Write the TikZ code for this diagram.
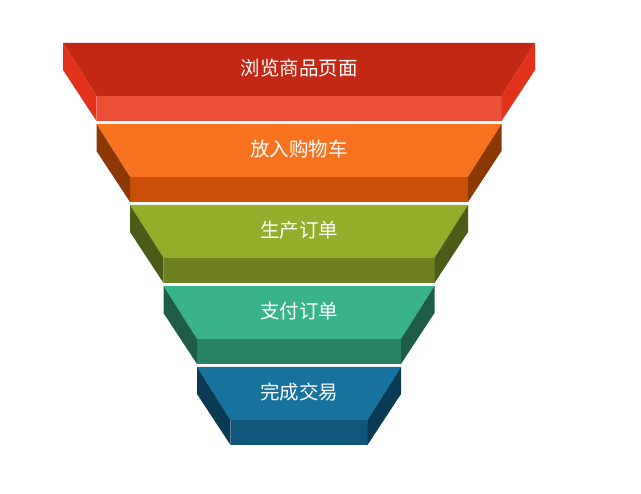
\documentclass[tikz,border=0pt]{standalone}
\usepackage{fontspec}
\newfontfamily\cjk{Noto Sans CJK SC}
\usepackage{tikz}

\definecolor{redtop}{HTML}{C32815}
\definecolor{redfront}{HTML}{EB4F38}
\definecolor{redside}{HTML}{E2321B}
\definecolor{orangetop}{HTML}{F8731F}
\definecolor{orangefront}{HTML}{C84F05}
\definecolor{orangeside}{HTML}{8B3805}
\definecolor{greentop}{HTML}{93AE2A}
\definecolor{greenfront}{HTML}{6E801F}
\definecolor{greenside}{HTML}{4B5C18}
\definecolor{tealtop}{HTML}{38B38A}
\definecolor{tealfront}{HTML}{2A8265}
\definecolor{tealside}{HTML}{1E5C47}
\definecolor{bluetop}{HTML}{17729E}
\definecolor{bluefront}{HTML}{10567A}
\definecolor{blueside}{HTML}{0B3A55}

\tikzset{
	label/.style={text=white, font=\cjk\fontsize{19.5}{21}\selectfont, inner sep=0pt}
}

\begin{document}
\begin{tikzpicture}[x=1pt,y=-1pt]
			\useasboundingbox (0,0) rectangle (641,494);
			
			% one funnel level per step
			\foreach \i/\c/\txt in {0/red/浏览商品页面, 1/orange/放入购物车, 2/green/生产订单, 3/teal/支付订单, 4/blue/完成交易}
			{
				\pgfmathsetmacro\L{63+33.5*\i}
				\pgfmathsetmacro\R{535-33.5*\i}
				\pgfmathsetmacro\T{43+81*\i}
				
				\fill[\c top] (\L,\T) -- (\R,\T) -- ({\R-33.5},{\T+53}) -- ({\L+33.5},{\T+53}) -- cycle;
				\fill[\c front] ({\L+33.5},{\T+53}) rectangle ({\R-33.5},{\T+78});
				\fill[\c side] (\L,\T) -- (\L,{\T+27}) -- ({\L+33.5},{\T+78}) -- ({\L+33.5},{\T+53}) -- cycle;
				\fill[\c side] (\R,\T) -- (\R,{\T+27}) -- ({\R-33.5},{\T+78}) -- ({\R-33.5},{\T+53}) -- cycle;
				
				\node (step\i) at ({(\L+\R)/2},{\T+25.5}) [label] {\txt};
			}
		\end{tikzpicture}
\end{document}
